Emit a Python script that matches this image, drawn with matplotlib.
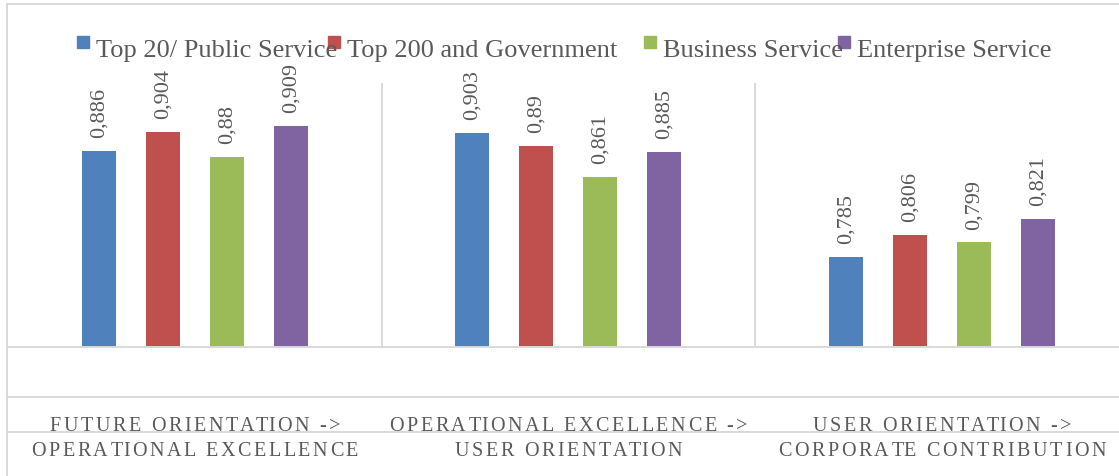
import numpy as np
import matplotlib.pyplot as plt
from matplotlib.font_manager import FontProperties
from matplotlib.lines import Line2D
from matplotlib.patches import Rectangle
from matplotlib.transforms import IdentityTransform

# data
series = ['Top 20/ Public Service', 'Top 200 and Government',
          'Business Service', 'Enterprise Service']
colors = ['#4F81BD', '#C0504D', '#9BBB59', '#8064A2']
cat_line1 = ['FUTURE ORIENTATION ->', 'OPERATIONAL EXCELLENCE ->', 'USER ORIENTATION ->']
cat_line2 = ['OPERATIONAL EXCELLENCE', 'USER ORIENTATION', 'CORPORATE CONTRIBUTION']
top20 = [0.886, 0.903, 0.785]
top200 = [0.904, 0.89, 0.806]
business = [0.88, 0.861, 0.799]
enterprise = [0.909, 0.885, 0.821]
values = [top20, top200, business, enterprise]

W, H = 1119, 477
grey_line = '#D9D9D9'
txt_col = '#595959'
serif = 'Liberation Serif'

fig = plt.figure(figsize=(W / 100, H / 100), dpi=100)
ax = fig.add_axes([8 / W, 129 / H, 1111 / W, 264 / H])

x = np.arange(len(cat_line1))
slot = 0.1714
bw = 0.091
for k, (vals, c) in enumerate(zip(values, colors)):
    xs = x + (k - 1.5) * slot
    ax.bar(xs, vals, bw, color=c, zorder=2)
    for xi, v in zip(xs, vals):
        ax.annotate(f"{v:g}".replace('.', ','), (xi, v), xytext=(0, 10),
                    textcoords='offset points', rotation=90, ha='center',
                    va='bottom', fontsize=16, color=txt_col, family=serif)

ax.set_xlim(-0.5, -0.5 + 1111 / 373.5)
ax.set_ylim(0.7, 0.95)
ax.set_xticks([])
ax.set_yticks([])
for s in ['top', 'left', 'right']:
    ax.spines[s].set_visible(False)
ax.spines['bottom'].set_color(grey_line)
ax.spines['bottom'].set_linewidth(1.4)
for b in [0.5, 1.5]:
    ax.axvline(b, color=grey_line, lw=1.4, zorder=1)

# chart frame and category rows
def hline(ypix):
    fig.add_artist(Line2D([7 / W, 1], [1 - ypix / H] * 2, color=grey_line, lw=1.4))

hline(5)
hline(398)
hline(433)
fig.add_artist(Line2D([7 / W] * 2, [0, 1 - 5 / H], color=grey_line, lw=1.4))

# legend, laid out like the original (entries run into each other)
leg_sq = [77, 328, 644, 838]
leg_tx = [96, 347, 663, 857]
for s, c, sx, tx in zip(series, colors, leg_sq, leg_tx):
    fig.add_artist(Rectangle((sx / W, 1 - 49 / H), 12 / W, 12 / H,
                             transform=fig.transFigure, color=c, zorder=1))
    fig.text(tx / W, 1 - 57 / H, s, fontsize=19, color=txt_col,
             family=serif, va='baseline', zorder=3)

# letter-spaced category labels
fp = FontProperties(family=serif, size=14.5)
renderer = fig.canvas.get_renderer()

def tw(s):
    return renderer.get_text_width_height_descent(s, fp, ismath=False)[0]

def spaced(cx, ybase, s, track=2.6):
    pos = [tw(s[:i] + 'H') - tw('H') for i in range(len(s))]
    total = tw(s) + track * (len(s) - 1)
    x0 = cx - total / 2
    for i, ch in enumerate(s):
        if ch == ' ':
            continue
        fig.text(x0 + pos[i] + i * track, ybase, ch, fontproperties=fp,
                 color=txt_col, va='baseline', ha='left',
                 transform=IdentityTransform())

for i, (l1, l2) in enumerate(zip(cat_line1, cat_line2)):
    cx = ax.transData.transform((i, 0.7))[0]
    spaced(cx, H - 431, l1)
    spaced(cx, H - 456, l2)

fig.savefig('out.png', dpi=100)
